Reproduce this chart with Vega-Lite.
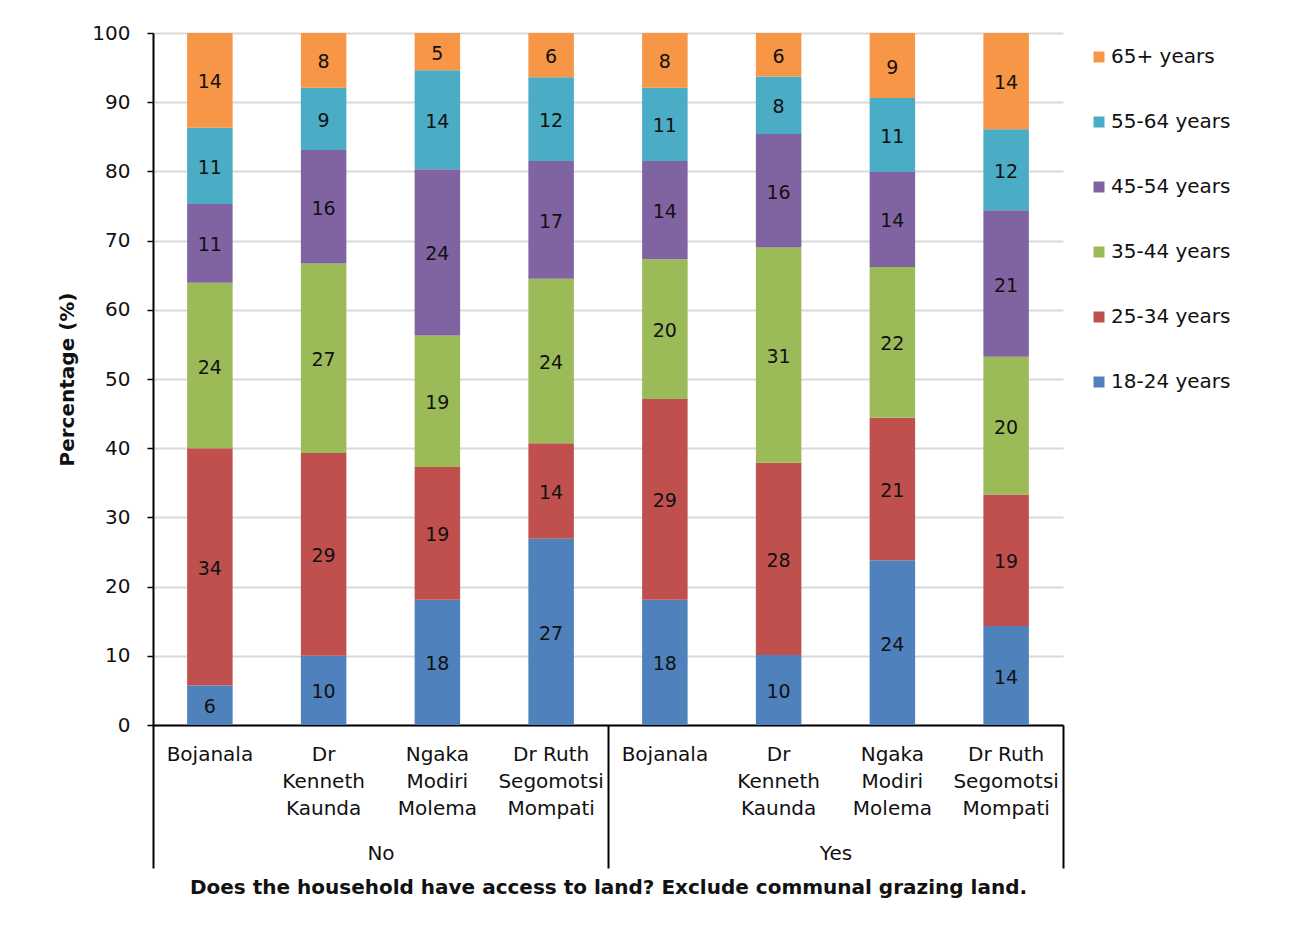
{
  "$schema": "https://vega.github.io/schema/vega-lite/v6.json",
  "width": 910,
  "height": 692,
  "autosize": {"type": "none"},
  "padding": {"left": 153, "top": 33, "right": 229, "bottom": 201},
  "background": "white",
  "config": {
    "font": "DejaVu Sans",
    "view": {"stroke": null},
    "axis": {"labelColor": "#111111", "titleColor": "#111111"},
    "text": {"color": "#111111"}
  },
  "data": {
    "values": [
      {"access": "No", "district": "Bojanala", "age": "18-24 years", "pct": 5.7},
      {"access": "No", "district": "Bojanala", "age": "25-34 years", "pct": 34.3},
      {"access": "No", "district": "Bojanala", "age": "35-44 years", "pct": 23.9},
      {"access": "No", "district": "Bojanala", "age": "45-54 years", "pct": 11.4},
      {"access": "No", "district": "Bojanala", "age": "55-64 years", "pct": 11.0},
      {"access": "No", "district": "Bojanala", "age": "65+ years", "pct": 13.7},
      {"access": "No", "district": "Dr Kenneth Kaunda", "age": "18-24 years", "pct": 10.0},
      {"access": "No", "district": "Dr Kenneth Kaunda", "age": "25-34 years", "pct": 29.3},
      {"access": "No", "district": "Dr Kenneth Kaunda", "age": "35-44 years", "pct": 27.4},
      {"access": "No", "district": "Dr Kenneth Kaunda", "age": "45-54 years", "pct": 16.4},
      {"access": "No", "district": "Dr Kenneth Kaunda", "age": "55-64 years", "pct": 9.0},
      {"access": "No", "district": "Dr Kenneth Kaunda", "age": "65+ years", "pct": 7.9},
      {"access": "No", "district": "Ngaka Modiri Molema", "age": "18-24 years", "pct": 18.1},
      {"access": "No", "district": "Ngaka Modiri Molema", "age": "25-34 years", "pct": 19.2},
      {"access": "No", "district": "Ngaka Modiri Molema", "age": "35-44 years", "pct": 19.0},
      {"access": "No", "district": "Ngaka Modiri Molema", "age": "45-54 years", "pct": 24.0},
      {"access": "No", "district": "Ngaka Modiri Molema", "age": "55-64 years", "pct": 14.3},
      {"access": "No", "district": "Ngaka Modiri Molema", "age": "65+ years", "pct": 5.4},
      {"access": "No", "district": "Dr Ruth Segomotsi Mompati", "age": "18-24 years", "pct": 26.9},
      {"access": "No", "district": "Dr Ruth Segomotsi Mompati", "age": "25-34 years", "pct": 13.8},
      {"access": "No", "district": "Dr Ruth Segomotsi Mompati", "age": "35-44 years", "pct": 23.8},
      {"access": "No", "district": "Dr Ruth Segomotsi Mompati", "age": "45-54 years", "pct": 17.0},
      {"access": "No", "district": "Dr Ruth Segomotsi Mompati", "age": "55-64 years", "pct": 12.1},
      {"access": "No", "district": "Dr Ruth Segomotsi Mompati", "age": "65+ years", "pct": 6.4},
      {"access": "Yes", "district": "Bojanala", "age": "18-24 years", "pct": 18.1},
      {"access": "Yes", "district": "Bojanala", "age": "25-34 years", "pct": 29.0},
      {"access": "Yes", "district": "Bojanala", "age": "35-44 years", "pct": 20.2},
      {"access": "Yes", "district": "Bojanala", "age": "45-54 years", "pct": 14.2},
      {"access": "Yes", "district": "Bojanala", "age": "55-64 years", "pct": 10.6},
      {"access": "Yes", "district": "Bojanala", "age": "65+ years", "pct": 7.9},
      {"access": "Yes", "district": "Dr Kenneth Kaunda", "age": "18-24 years", "pct": 10.1},
      {"access": "Yes", "district": "Dr Kenneth Kaunda", "age": "25-34 years", "pct": 27.8},
      {"access": "Yes", "district": "Dr Kenneth Kaunda", "age": "35-44 years", "pct": 31.1},
      {"access": "Yes", "district": "Dr Kenneth Kaunda", "age": "45-54 years", "pct": 16.4},
      {"access": "Yes", "district": "Dr Kenneth Kaunda", "age": "55-64 years", "pct": 8.3},
      {"access": "Yes", "district": "Dr Kenneth Kaunda", "age": "65+ years", "pct": 6.3},
      {"access": "Yes", "district": "Ngaka Modiri Molema", "age": "18-24 years", "pct": 23.8},
      {"access": "Yes", "district": "Ngaka Modiri Molema", "age": "25-34 years", "pct": 20.6},
      {"access": "Yes", "district": "Ngaka Modiri Molema", "age": "35-44 years", "pct": 21.8},
      {"access": "Yes", "district": "Ngaka Modiri Molema", "age": "45-54 years", "pct": 13.7},
      {"access": "Yes", "district": "Ngaka Modiri Molema", "age": "55-64 years", "pct": 10.7},
      {"access": "Yes", "district": "Ngaka Modiri Molema", "age": "65+ years", "pct": 9.4},
      {"access": "Yes", "district": "Dr Ruth Segomotsi Mompati", "age": "18-24 years", "pct": 14.3},
      {"access": "Yes", "district": "Dr Ruth Segomotsi Mompati", "age": "25-34 years", "pct": 19.0},
      {"access": "Yes", "district": "Dr Ruth Segomotsi Mompati", "age": "35-44 years", "pct": 19.9},
      {"access": "Yes", "district": "Dr Ruth Segomotsi Mompati", "age": "45-54 years", "pct": 21.2},
      {"access": "Yes", "district": "Dr Ruth Segomotsi Mompati", "age": "55-64 years", "pct": 11.7},
      {"access": "Yes", "district": "Dr Ruth Segomotsi Mompati", "age": "65+ years", "pct": 13.9}
    ]
  },
  "transform": [
    {"calculate": "datum.access + '|' + datum.district", "as": "bar"}
  ],
  "layer": [
    {
      "layer": [
        {
          "mark": {"type": "bar", "width": {"band": 0.4}},
          "encoding": {
            "x": {
              "field": "bar",
              "type": "nominal",
              "sort": null,
              "scale": {"paddingInner": 0, "paddingOuter": 0},
              "axis": {
                "title": null,
                "labelExpr": "indexof(datum.label, 'Ruth') >= 0 ? ['Dr Ruth', 'Segomotsi', 'Mompati'] : split(split(datum.label, '|')[1], ' ')",
                "labelAngle": 0,
                "labelAlign": "center",
                "labelBaseline": "top",
                "labelPadding": 19,
                "labelLineHeight": 27,
                "labelFontSize": 20,
                "labelOverlap": false,
                "labelLimit": 0,
                "ticks": false,
                "grid": false,
                "domain": true,
                "domainColor": "#000000",
                "domainWidth": 2
              }
            },
            "y": {
              "field": "pct",
              "type": "quantitative",
              "stack": "zero",
              "scale": {"domain": [0, 100], "nice": false},
              "axis": {
                "title": "Percentage (%)",
                "values": [0, 10, 20, 30, 40, 50, 60, 70, 80, 90, 100],
                "grid": true,
                "gridColor": "#d9d9d9",
                "gridWidth": 2,
                "domainColor": "#000000",
                "domainWidth": 2,
                "tickColor": "#000000",
                "tickWidth": 1.5,
                "tickSize": 6,
                "labelFontSize": 20,
                "labelPadding": 17,
                "titleFontSize": 20,
                "titleFontWeight": "bold",
                "titlePadding": 14
              }
            },
            "color": {
              "field": "age",
              "type": "nominal",
              "scale": {
                "domain": ["65+ years", "55-64 years", "45-54 years", "35-44 years", "25-34 years", "18-24 years"],
                "range": ["#F79646", "#4BACC6", "#8064A2", "#9BBB59", "#C0504D", "#4F81BD"]
              },
              "legend": {
                "title": null,
                "orient": "none",
                "legendX": 936,
                "legendY": 14,
                "padding": 0,
                "symbolType": "square",
                "symbolSize": 121,
                "symbolStrokeWidth": 0,
                "labelFontSize": 20,
                "labelColor": "#111111",
                "labelOffset": 2,
                "rowPadding": 45
              }
            },
            "order": {"field": "age", "type": "ordinal", "sort": "ascending"}
          }
        },
        {
          "transform": [
            {"stack": "pct", "groupby": ["bar"], "sort": [{"field": "age", "order": "ascending"}], "as": ["lo", "hi"]},
            {"calculate": "(datum.lo + datum.hi) / 2", "as": "mid"}
          ],
          "mark": {"type": "text", "fontSize": 19, "baseline": "middle", "align": "center", "dy": 2},
          "encoding": {
            "x": {"field": "bar", "type": "nominal", "sort": null},
            "y": {"field": "mid", "type": "quantitative"},
            "text": {"field": "pct", "type": "quantitative", "format": ".0f"}
          }
        }
      ]
    },
    {
      "mark": {"type": "rule", "strokeOpacity": 0},
      "encoding": {
        "x": {
          "field": "access",
          "type": "nominal",
          "scale": {"paddingInner": 0, "paddingOuter": 0},
          "axis": {
            "orient": "bottom",
            "title": "Does the household have access to land? Exclude communal grazing land.",
            "titleFontSize": 20,
            "titleFontWeight": "bold",
            "titlePadding": 8,
            "tickBand": "extent",
            "tickSize": 143,
            "tickWidth": 2,
            "tickColor": "#000000",
            "domain": false,
            "grid": false,
            "labelAngle": 0,
            "labelFontSize": 20,
            "labelBaseline": "middle",
            "labelPadding": -15
          }
        }
      }
    }
  ],
  "resolve": {"scale": {"x": "independent"}}
}
